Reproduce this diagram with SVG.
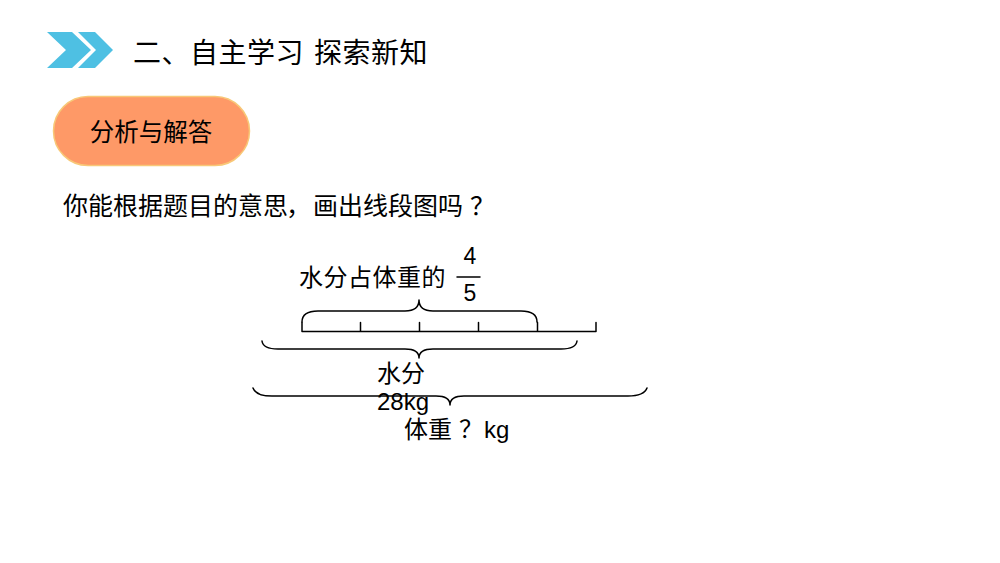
<svg xmlns="http://www.w3.org/2000/svg" width="1000" height="563" viewBox="0 0 1000 563">
<style>
.cjk{font-family:"Noto Sans CJK SC","Liberation Sans",sans-serif;fill:#000}
.lat{font-family:"Liberation Sans","Noto Sans CJK SC",sans-serif;fill:#000}
.ln{stroke:#000;stroke-width:1.5;fill:none;stroke-linecap:round;stroke-linejoin:round}
</style>
<rect width="1000" height="563" fill="#fff"/>
<g id="header">
<polygon points="47,32 72,32 91,50 72,68 47,68 66,50" fill="#4EC0E3"/>
<polygon points="78,32 95,32 113,50 95,68 78,68 96,50" fill="#4EC0E3"/>
<text class="cjk" x="133 161.5 190 218.5 247 275.5 304 314 342.5 371 399.5" y="63" font-size="28">二、自主学习 探索新知</text>
</g>
<g id="pill">
<rect x="53.5" y="96.5" width="196" height="69" rx="34.5" fill="#FE9967" stroke="#F8C877" stroke-width="1.5"/>
<text class="cjk" x="151" y="141" font-size="24.5" text-anchor="middle">分析与解答</text>
</g>
<g id="question">
<text class="cjk" x="63 88 113 138 163 188 213 238 263 286 313 338 363 388 413 438 470" y="215" font-size="25">你能根据题目的意思，画出线段图吗？</text>
</g>
<g id="labels">
<text class="cjk" x="299 323.5 348 372.5 397 421.5" y="286" font-size="24">水分占体重的</text>
<text class="lat" x="470" y="264" font-size="23" text-anchor="middle">4</text>
<text class="lat" x="470" y="301" font-size="23" text-anchor="middle">5</text>
<text class="cjk" x="377 401" y="382" font-size="24">水分</text>
<text class="lat" x="377" y="410" font-size="24">28kg</text>
<text class="cjk" x="404 428 459" y="438" font-size="24">体重？</text>
<text class="lat" x="484" y="438" font-size="24">kg</text>
</g>
<g id="connectors">
<line class="ln" x1="457" y1="277" x2="480" y2="277"/>
<path class="ln" d="M302,331.5 H596 M302,322.5 V331.5 M360.5,322.5 V331.5 M419.5,322.5 V331.5 M478.5,322.5 V331.5 M537.5,322.5 V331.5 M596,322.5 V331.5"/>
<path class="ln" d="M302,322 Q302,311 318,311 L405,311 Q419,311 419,300 Q419,311 433,311 L521,311 Q537,311 537,322"/>
<path class="ln" d="M262,341 Q263,349 278,349 L405,349 Q419,349 419,358 Q419,349 433,349 L561,349 Q576,349 577,341"/>
<path class="ln" d="M253,388 Q256,396 272,396 L436,396 Q450,396 450,405 Q450,396 464,396 L628,396 Q644,396 647,388"/>
</g>
</svg>
